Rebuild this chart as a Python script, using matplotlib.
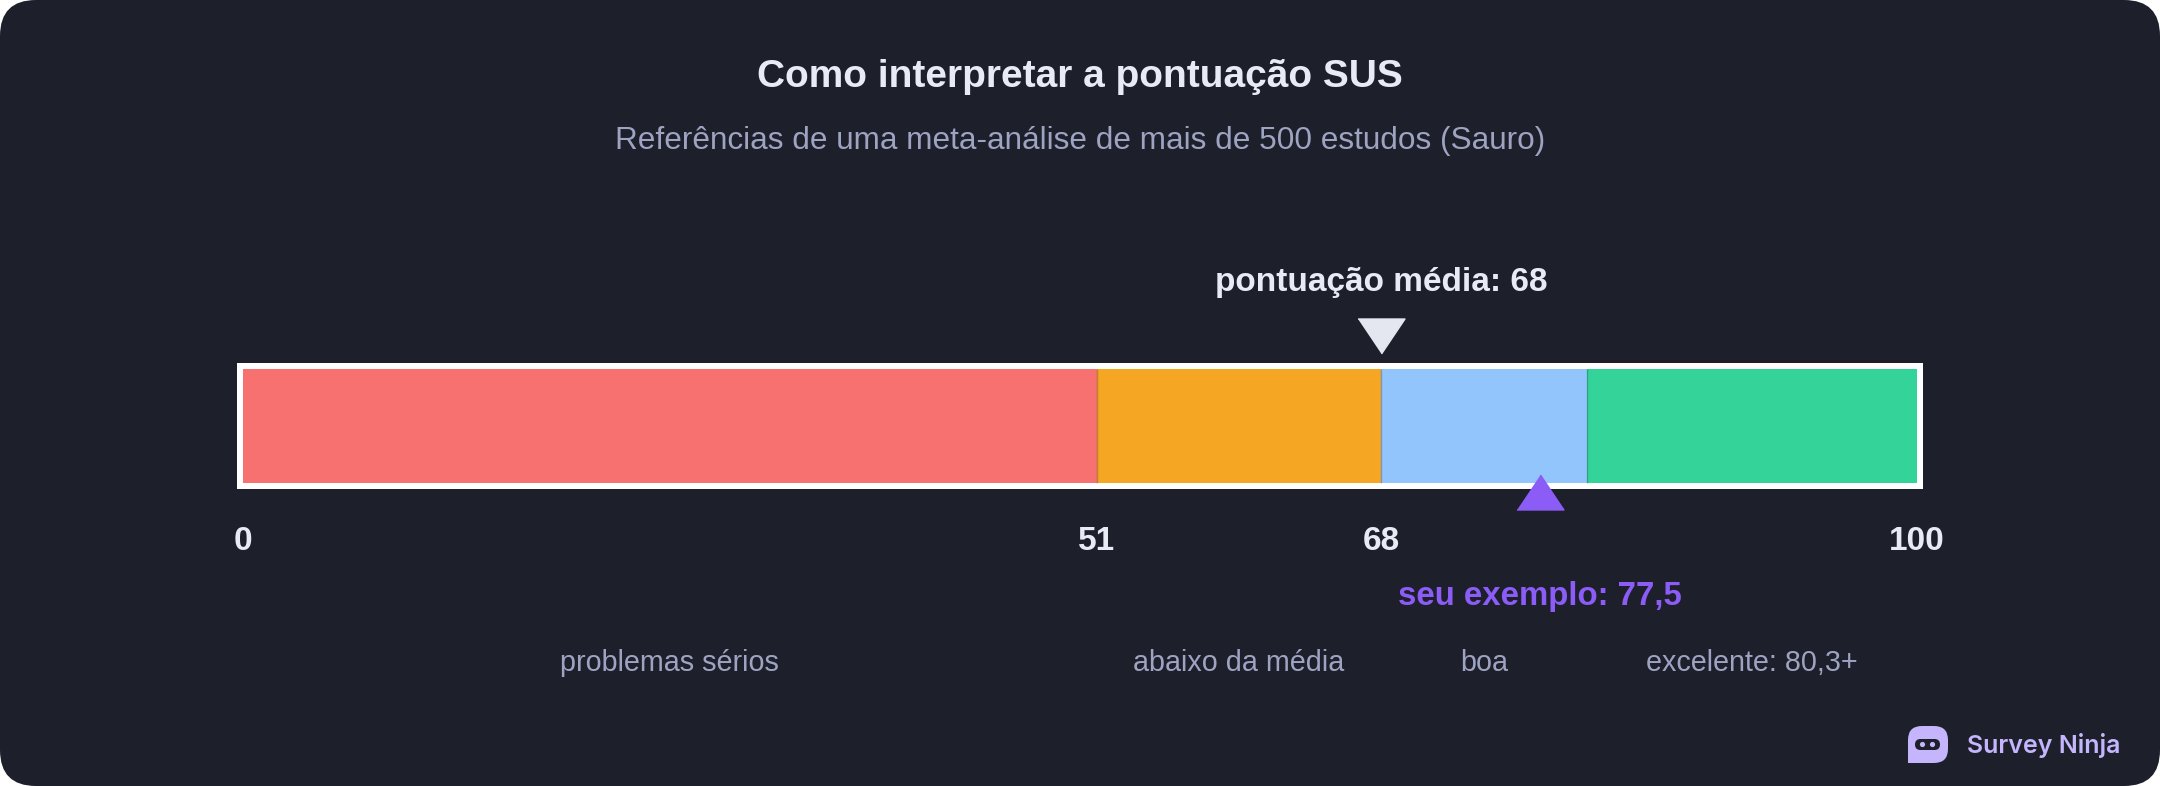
import numpy as np
import matplotlib
matplotlib.use("Agg")
import matplotlib.pyplot as plt
from matplotlib.patches import FancyBboxPatch, Rectangle, Circle

# data
categories = ["problemas sérios", "abaixo da média", "boa", "excelente: 80,3+"]
seg_start = [0, 51, 68, 80.3]
seg_end = [51, 68, 80.3, 100]
seg_colors = ["#f87171", "#f5a623", "#93c5fd", "#34d399"]
tick_values = [0, 51, 68, 100]
avg_score = 68
example_score = 77.5

title = "Como interpretar a pontuação SUS"
subtitle = "Referências de uma meta-análise de mais de 500 estudos (Sauro)"

BG = "#1d1f2b"
LIGHT = "#e8eaf4"
MUTED = "#9ea3c2"
PURPLE = "#8b5cf6"
LAVENDER = "#c4b5fd"

plt.rcParams["font.family"] = ["Liberation Sans", "DejaVu Sans"]

W, H = 2160, 786
fig = plt.figure(figsize=(W / 100, H / 100), dpi=100, facecolor="white")

# background card (pixel coordinates)
bg = fig.add_axes([0, 0, 1, 1], zorder=0)
bg.set_xlim(0, W)
bg.set_ylim(H, 0)
bg.axis("off")
bg.add_patch(FancyBboxPatch((0, 0), W, H, boxstyle="round,pad=0,rounding_size=36",
                            fc=BG, ec="none"))

bg.text(W / 2, 77, title, ha="center", va="center", fontsize=28,
        fontweight="bold", color=LIGHT)
bg.text(W / 2, 141, subtitle, ha="center", va="center", fontsize=22.7,
        color=MUTED)

# logo
bg.add_patch(FancyBboxPatch((1908, 726), 40, 37, boxstyle="round,pad=0,rounding_size=14",
                            fc=LAVENDER, ec="none"))
bg.add_patch(Rectangle((1908, 748), 14, 15, fc=LAVENDER, ec="none"))
bg.add_patch(FancyBboxPatch((1915, 739), 25, 11, boxstyle="round,pad=0,rounding_size=5.5",
                            fc=BG, ec="none"))
bg.add_patch(Circle((1922.5, 744.5), 2.6, fc=LAVENDER, ec="none"))
bg.add_patch(Circle((1932.5, 744.5), 2.6, fc=LAVENDER, ec="none"))
bg.text(1967, 745, "Survey Ninja", ha="left", va="center", fontsize=18,
        fontweight="semibold", color=LAVENDER, family=["Inter", "DejaVu Sans"])

# scale axes: x in score units, y in pixels
ax = fig.add_axes([243 / W, 0, 1674 / W, 1], zorder=1)
ax.set_xlim(0, 100)
ax.set_ylim(H, 0)
ax.axis("off")

px = 100 / 1674  # one pixel in score units
bar_y, bar_h, border = 426, 114, 6

ax.add_patch(Rectangle((seg_start[0] - border * px, bar_y - bar_h / 2 - border),
                       (seg_end[-1] - seg_start[0]) + 2 * border * px, bar_h + 2 * border,
                       fc="white", ec="none", zorder=1, clip_on=False))
widths = np.array(seg_end) - np.array(seg_start)
ax.barh(bar_y, widths, left=seg_start, height=bar_h, color=seg_colors,
        edgecolor="none", zorder=2)
ax.vlines(seg_start[1:], bar_y - bar_h / 2, bar_y + bar_h / 2,
          colors=(0.1, 0.1, 0.2, 0.25), linewidth=1, zorder=3)

# markers
tri_down = [(-1, 0.745), (1, 0.745), (0, -0.745)]
tri_up = [(-1, -0.745), (1, -0.745), (0, 0.745)]
ax.plot(avg_score, 335.5, marker=tri_down, markersize=33.8, color="#e5e7f0",
        linestyle="none", clip_on=False, zorder=5)
ax.plot(example_score, 492, marker=tri_up, markersize=33.8, color=PURPLE,
        linestyle="none", clip_on=False, zorder=5)

ax.text(avg_score, 283, "pontuação média: %d" % avg_score, ha="center", va="center",
        fontsize=24, fontweight="bold", color=LIGHT)
ax.text(example_score, 597, "seu exemplo: " + ("%g" % example_score).replace(".", ","),
        ha="center", va="center", fontsize=23.8, fontweight="bold", color=PURPLE)

for v in tick_values:
    ax.text(v, 542, str(v), ha="center", va="center", fontsize=24,
            fontweight="bold", color=LIGHT)

for name, s, e in zip(categories, seg_start, seg_end):
    ax.text((s + e) / 2, 663, name, ha="center", va="center", fontsize=20.7,
            color=MUTED)

fig.savefig("out.png", dpi=100, facecolor="white")
